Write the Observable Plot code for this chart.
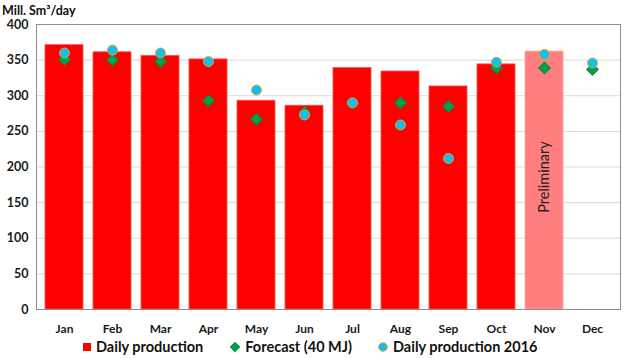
<!DOCTYPE html>
<html><head><meta charset="utf-8">
<script src="https://cdn.jsdelivr.net/npm/d3@7"></script>
<script src="https://cdn.jsdelivr.net/npm/@observablehq/plot@0.6"></script>
<style>
body{margin:0;background:#fff;font-family:Lato,"Open Sans",sans-serif}
#wrap{position:relative;width:624px;height:358px;overflow:hidden}
#chart{position:absolute;left:0;top:0}
#title{position:absolute;left:2px;top:3px;font-weight:bold;font-size:12.5px;color:#111}
#legend{position:absolute;top:338px;left:83px;display:flex;align-items:center;font-weight:bold;font-size:14.5px;color:#111;white-space:nowrap}
.item{display:flex;align-items:center}
.sw{display:inline-block;margin-right:5px}
</style></head>
<body>
<div id="wrap">
  <div id="chart"></div>
  <div id="title">Mill. Sm³/day</div>
  <div id="legend"></div>
</div>
<script>
const months = ["Jan","Feb","Mar","Apr","May","Jun","Jul","Aug","Sep","Oct","Nov","Dec"];
const production = [371, 361, 356, 351, 293, 286, 339, 334, 313, 344, 362, null];
const forecast = [351, 350, 348, 293, 267, 277, 290, 290, 285, 339, 339, 337];
const production2016 = [360, 364, 360, 348, 308, 273, 290, 259, 212, 347, 358, 346];
const preliminaryMonth = "Nov";
const yTicks = [0, 50, 100, 150, 200, 250, 300, 350, 400];
const annotations = [{month: "Nov", value: 186, text: "Preliminary"}];
const legendLabels = ["Daily production", "Forecast (40 MJ)", "Daily production 2016"];

const data = months.map((m, i) => ({month: m, production: production[i], forecast: forecast[i], p2016: production2016[i]}));

const plot = Plot.plot({
  width: 624, height: 336,
  marginLeft: 36, marginRight: 4, marginTop: 24, marginBottom: 27,
  style: {fontFamily: "Lato, 'Open Sans', sans-serif", fontSize: "12px", fontWeight: "bold", color: "#1a1a1a", background: "#fff"},
  x: {domain: months, paddingInner: 0.2, paddingOuter: 0.1, label: null},
  y: {domain: [0, 400], label: null},
  marks: [
    Plot.gridY(yTicks, {stroke: "#d9d9d9", strokeOpacity: 1}),
    Plot.barY(data.filter(d => d.production != null), {x: "month", y: "production",
      fill: d => d.month === preliminaryMonth ? "#FF7F7F" : "#FF0000",
      stroke: d => d.month === preliminaryMonth ? "#FFA0A0" : "#FF5050", strokeWidth: 0.8}),
    Plot.text(annotations, {x: "month", y: "value", text: "text", rotate: -90, fontSize: 14.5, fontWeight: "normal", fill: "#222"}),
    Plot.frame({stroke: "#8c8c8c"}),
    Plot.axisY(yTicks, {tickSize: 0, tickPadding: 8, label: null, fontSize: 12.5}),
    Plot.axisX({tickSize: 0, tickPadding: 15, label: null, fontSize: 12}),
    Plot.dot(data, {x: "month", y: "forecast", symbol: "diamond2", r: 5.5, fill: "#00A04A", stroke: "#0a7a3a", strokeWidth: 0.8}),
    Plot.dot(data, {x: "month", y: "p2016", symbol: "circle", r: 5, fill: "#10C0F0", stroke: "#F0A020", strokeWidth: 1})
  ]
});
document.getElementById("chart").appendChild(plot);

const swatches = [
  '<svg class="sw" width="8" height="8"><rect width="8" height="8" fill="#FF0000"/></svg>',
  '<svg class="sw" width="10" height="10"><path d="M5 0L10 5L5 10L0 5Z" fill="#00A04A" stroke="#0a7a3a" stroke-width="0.6"/></svg>',
  '<svg class="sw" width="10" height="10"><circle cx="5" cy="5" r="4.3" fill="#10C0F0" stroke="#F0A020" stroke-width="1"/></svg>'
];
const gaps = [27, 26, 0];
document.getElementById("legend").innerHTML = legendLabels.map((l, i) =>
  `<span class="item" style="margin-right:${gaps[i]}px">${swatches[i]}<span>${l}</span></span>`).join("");
</script>
</body></html>
